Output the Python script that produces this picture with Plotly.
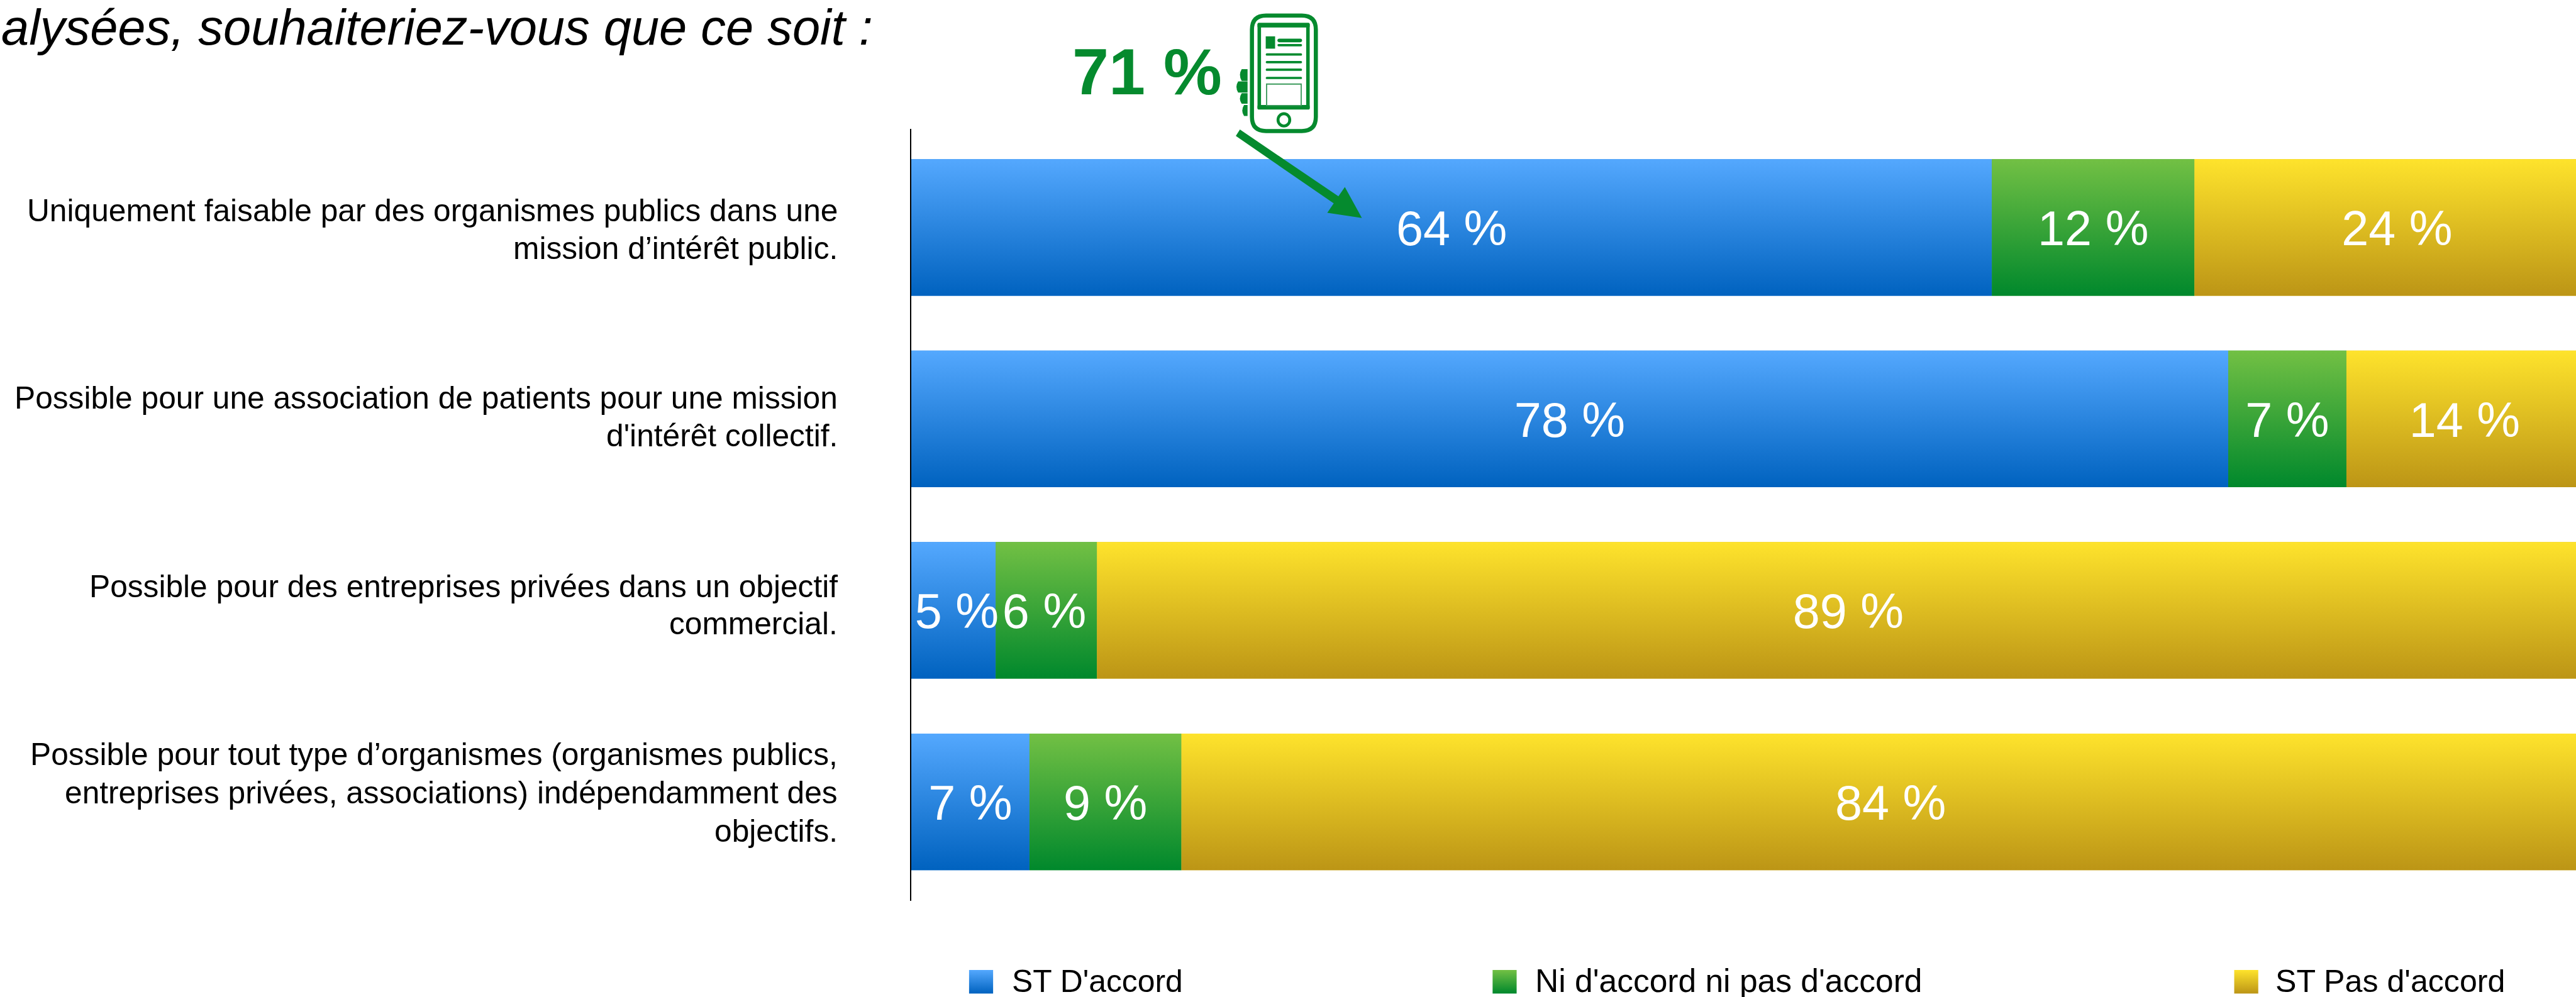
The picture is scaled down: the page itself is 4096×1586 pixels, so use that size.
import numpy as np
import plotly.graph_objects as go

# ---------- data ----------
categories = [
    ["Uniquement faisable par des organismes publics dans une", "mission d’intérêt public."],
    ["Possible pour une association de patients pour une mission", "d'intérêt collectif."],
    ["Possible pour des entreprises privées dans un objectif", "commercial."],
    ["Possible pour tout type d’organismes (organismes publics,", "entreprises privées, associations) indépendamment des", "objectifs."],
]
series_names = ["ST D'accord", "Ni d'accord ni pas d'accord", "ST Pas d'accord"]
st_accord = [64, 78, 5, 7]
ni_ni = [12, 7, 6, 9]
st_pas_accord = [24, 14, 89, 84]
title_text = "alysées, souhaiteriez-vous que ce soit :"
callout_text = "71 %"

# ---------- layout constants (reference pixels) ----------
REF_W, REF_H = 4394, 1701
SCALE = 4096 / 4394
FONT = "Liberation Sans"
BLACK = "#000000"
GREEN_DARK = "#058a2e"
gradients = [("#54a8fe", "#0062bf"), ("#72c044", "#00882c"), ("#fee32c", "#bc9516")]
mid_colors = ["#2a85df", "#39a438", "#ddbc21"]
label_baselines = [[378, 442], [698, 762], [1019, 1083], [1306, 1371, 1437]]
legend_swatch_x = [1653, 2546, 3811]
legend_text_x = [1726, 2619, 3881]
legend_font_size = [53.5, 55.3, 53.8]
# small horizontal nudges of the two crowded labels in row 3 (in percentage points)
label_nudge = {(0, 2): 0.2, (1, 2): -0.12}

PLOT_X0, PLOT_TOP, PLOT_BOTTOM = 1554.4, 220, 1537
PX_PER_PCT = 28.8
CAT0_Y, CAT_STEP, BAR_PX = 388, 326.7, 233

y_pos = np.arange(len(categories))
values = [st_accord, ni_ni, st_pas_accord]
bar_w = BAR_PX / CAT_STEP

fig = go.Figure()
lefts = np.zeros(len(categories))

# stacked bars, with the vertical gradient drawn over each segment from the same data
seg_rows = []
for s, name in enumerate(series_names):
    v = np.array(values[s], dtype=float)
    fig.add_trace(go.Bar(
        x=v, y=y_pos, base=lefts, orientation="h", width=bar_w, name=name,
        marker=dict(color=mid_colors[s], line=dict(width=0)), showlegend=False,
    ))
    seg_rows.append((s, lefts.copy(), v))
    lefts = lefts + v

for s, left, v in seg_rows:
    top, bot = gradients[s]
    for i in range(len(y_pos)):
        y0, y1 = y_pos[i] - bar_w / 2, y_pos[i] + bar_w / 2
        fig.add_trace(go.Scatter(
            x=[left[i], left[i] + v[i], left[i] + v[i], left[i], left[i]],
            y=[y0, y0, y1, y1, y0],
            mode="none", fill="toself", showlegend=False, hoverinfo="skip",
            fillgradient=dict(type="vertical", colorscale=[[0, top], [1, bot]], start=y0, stop=y1),
        ))

for s, left, v in seg_rows:
    nudges = np.array([label_nudge.get((s, i), 0.0) for i in range(len(y_pos))])
    fig.add_trace(go.Scatter(
        x=left + v / 2 + nudges, y=y_pos + 0.029, mode="text",
        text=[f"{int(t)} %" for t in v],
        textposition="middle center",
        textfont=dict(family=FONT, size=83 * SCALE, color="#ffffff"),
        showlegend=False, hoverinfo="skip",
    ))

# legend swatches on a full-figure overlay axis in reference pixels
for s, name in enumerate(series_names):
    x0 = legend_swatch_x[s]
    top, bot = gradients[s]
    fig.add_trace(go.Scatter(
        x=[x0, x0 + 41, x0 + 41, x0, x0], y=[1655, 1655, 1695, 1695, 1655],
        xaxis="x2", yaxis="y2", mode="none", fill="toself", showlegend=False, hoverinfo="skip",
        fillgradient=dict(type="vertical", colorscale=[[0, top], [1, bot]], start=1655, stop=1695),
    ))

annotations = []


def add_text(text, x, baseline, size, anchor="left", bold=False, italic=False, color=BLACK):
    # the text box bottom sits 0.212 em below the baseline for Liberation Sans
    annotations.append(dict(
        text=f"<b>{text}</b>" if bold else (f"<i>{text}</i>" if italic else text),
        xref="x2", yref="y2", x=x, y=baseline, yshift=-0.212 * size * SCALE,
        xanchor=anchor, yanchor="bottom", showarrow=False, borderpad=0, borderwidth=0,
        font=dict(family=FONT, size=size * SCALE, color=color),
    ))


for lines, bases in zip(categories, label_baselines):
    for line, b in zip(lines, bases):
        add_text(line, 1429, b, 53.3, anchor="right")
for s, name in enumerate(series_names):
    add_text(name, legend_text_x[s], 1693, legend_font_size[s])
add_text(title_text, 2, 76, 85.2, italic=True)
add_text(callout_text, 1829, 161, 112, bold=True, color=GREEN_DARK)

# ---------- phone icon and arrow ----------
shapes = []


def poly(points, fill=GREEN_DARK):
    path = "M" + " L".join(f"{x},{y}" for x, y in points) + " Z"
    shapes.append(dict(type="path", path=path, xref="x2", yref="y2", fillcolor=fill,
                       line=dict(width=0), layer="above"))


def round_rect(x0, y0, x1, y1, r, width=None, fill=GREEN_DARK):
    path = (f"M{x0+r},{y0} L{x1-r},{y0} Q{x1},{y0} {x1},{y0+r} L{x1},{y1-r} Q{x1},{y1} {x1-r},{y1} "
            f"L{x0+r},{y1} Q{x0},{y1} {x0},{y1-r} L{x0},{y0+r} Q{x0},{y0} {x0+r},{y0} Z")
    if width:
        shapes.append(dict(type="path", path=path, xref="x2", yref="y2", fillcolor="rgba(0,0,0,0)",
                           line=dict(width=width * SCALE, color=GREEN_DARK), layer="above"))
    else:
        shapes.append(dict(type="path", path=path, xref="x2", yref="y2", fillcolor=fill,
                           line=dict(width=0), layer="above"))


round_rect(2135.5, 26.5, 2244.5, 223.5, 24, width=7)
# screen frame: heavier at the top and bottom
round_rect(2145, 39, 2234, 47, 2)
round_rect(2145, 179, 2234, 187, 2)
poly([(2145, 41), (2151, 41), (2151, 185), (2145, 185)])
poly([(2228, 41), (2234, 41), (2234, 185), (2228, 185)])
# screen content
poly([(2159, 62), (2175, 62), (2175, 83), (2159, 83)])
round_rect(2179, 66, 2221, 72, 3)
round_rect(2179, 75, 2221, 79, 2)
for y in (91, 104, 117, 131):
    round_rect(2159, y, 2221, y + 4, 2)
shapes.append(dict(type="rect", x0=2160.5, x1=2219.5, y0=143.5, y1=180, xref="x2", yref="y2",
                   line=dict(width=2 * SCALE, color="#3c9a5c"), layer="above"))
# home button
shapes.append(dict(type="circle", x0=2180, x1=2200, y0=194, y1=215, xref="x2", yref="y2",
                   line=dict(width=5 * SCALE, color=GREEN_DARK), layer="above"))
# fingers
for x0, y0, y1 in [(2112, 118, 138), (2106, 139, 158), (2112, 159, 177), (2116, 179, 198)]:
    x1 = 2128
    path = (f"M{x1},{y0} L{x0+6},{y0} Q{x0},{(y0+y1)/2} {x0+6},{y1} L{x1},{y1} Z")
    shapes.append(dict(type="path", path=path, xref="x2", yref="y2", fillcolor=GREEN_DARK,
                       line=dict(width=0), layer="above"))
# arrow
poly([(2115, 221), (2283, 335), (2294, 319), (2323, 372), (2264, 363), (2275, 347), (2108, 232)])

# ---------- layout ----------
fig.update_layout(
    width=4096, height=1586, autosize=False,
    margin=dict(l=0, r=0, t=0, b=0, pad=0),
    paper_bgcolor="#ffffff", plot_bgcolor="rgba(0,0,0,0)",
    barmode="overlay", showlegend=False,
    xaxis=dict(domain=[PLOT_X0 / REF_W, 1], range=[0, (REF_W - PLOT_X0) / PX_PER_PCT],
               visible=False, fixedrange=True),
    yaxis=dict(domain=[1 - PLOT_BOTTOM / REF_H, 1 - PLOT_TOP / REF_H],
               range=[(PLOT_BOTTOM - CAT0_Y) / CAT_STEP, (PLOT_TOP - CAT0_Y) / CAT_STEP],
               showline=True, linecolor=BLACK, linewidth=2, ticks="", showticklabels=False,
               showgrid=False, zeroline=False, fixedrange=True),
    xaxis2=dict(domain=[0, 1], range=[0, REF_W], visible=False, anchor="y2", fixedrange=True),
    yaxis2=dict(domain=[0, 1], range=[REF_H, 0], visible=False, anchor="x2", fixedrange=True),
    annotations=annotations, shapes=shapes,
)

fig.write_html("out.html", config={"displayModeBar": False},
               post_script="document.body.style.margin='0';document.body.style.overflow='hidden';")
